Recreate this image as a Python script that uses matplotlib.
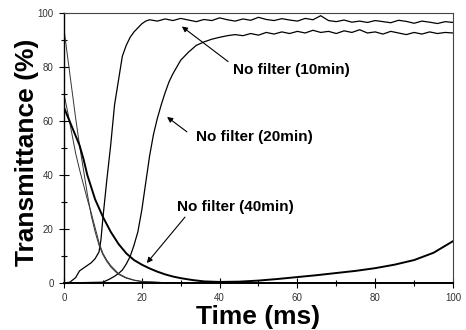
import numpy as np
import matplotlib
matplotlib.use("Agg")
import matplotlib.pyplot as plt
from matplotlib.ticker import MultipleLocator

plt.rcParams["font.family"] = ["Liberation Sans", "DejaVu Sans"]

# --- rise curves (early part read point by point, plateau sampled every 2 ms) ---
rise10_t = [0, 1.5, 3, 4, 5, 6, 7, 8, 9, 9.5, 10, 10.5, 11, 12, 13, 14, 15, 16, 17, 18, 19, 20, 21]
rise10_v = [0, 0.3, 2, 4.5, 5.5, 6.5, 7.5, 9, 11.5, 16, 24, 31, 38, 51, 66, 75, 84, 88, 91, 93, 94.5, 96, 97]
plat10_t = np.arange(22, 101, 2)
plat10_v = [97.5, 97, 97.8, 97.2, 98, 97.4, 96.8, 97.6, 97.2, 98.2,
            97.5, 97, 97.8, 97.3, 98.4, 97.6, 97.2, 97.9, 97.4, 97,
            98, 97.5, 99, 97.2, 96.8, 97.4, 96.6, 97, 96.5, 97.2,
            96.8, 96.4, 97.3, 96.9, 96.2, 97, 96.6, 96.1, 96.8, 96.5]

rise20_t = [0, 10, 11.8, 13, 14, 15, 16, 17, 18, 19, 20, 21, 22, 23, 24, 25, 26, 27,
            28, 29, 30, 32, 34, 36, 38, 40, 42]
rise20_v = [0, 0.3, 1.5, 2.5, 3.5, 4.8, 7, 9.8, 14, 19, 27, 37, 47, 55, 61, 66, 70.5, 74.5,
            77.5, 80, 82.5, 85.5, 88, 89.3, 90.3, 91, 91.6]
plat20_t = np.arange(44, 101, 2)
plat20_v = [92, 91.6, 92.4, 91.8, 92.8, 92.2, 93, 92.4, 93.2, 92.6,
            93.6, 92.8, 93.2, 92.4, 93.4, 92.8, 93.8, 92.6, 93, 92.2,
            93.2, 92.6, 92, 92.8, 92.2, 93, 92.4, 92.8, 92.6]

# --- decay curves ---
decay_t = [0, 1, 2, 3, 4, 5, 6, 7, 8, 9, 10, 11, 12, 13, 14, 16, 18, 20, 25, 30, 100]
decay10_v = [94, 83, 72, 61, 51, 42, 33, 25, 19, 14, 10.5, 8, 6, 4.5, 3.2, 1.8, 1, 0.5, 0.2, 0, 0]
decay20_v = [70, 63, 55.5, 48, 42, 36.5, 31, 26, 20.5, 15, 11, 8.5, 6.5, 5, 3.5, 2, 1.1, 0.6, 0.2, 0, 0]

f40_t = [0, 2, 4, 5, 6, 8, 10, 12, 14, 16, 18, 20, 22, 24, 26, 28, 30, 33, 36, 40,
         45, 50, 55, 60, 65, 70, 75, 80, 85, 90, 95, 100]
f40_v = [65, 58, 51, 46, 40, 31, 24.5, 19, 14.5, 11, 8.5, 6.8, 5.4, 4.2, 3.2, 2.4, 1.8, 1.1, 0.6, 0.4,
         0.5, 0.9, 1.5, 2.2, 2.9, 3.7, 4.5, 5.5, 6.8, 8.5, 11.2, 15.5]

labels = ["No filter (10min)", "No filter (20min)", "No filter (40min)"]
label_xy = [(43.5, 79), (34, 54), (29, 28)]
arrow_tail = [(42.2, 82), (31.6, 56), (31.1, 24.4)]
arrow_tip = [(30.3, 95), (26.5, 61.5), (21.3, 7.4)]

fig = plt.figure(figsize=(4.66, 3.30), dpi=100)
ax = fig.add_axes([0.1373, 0.1424, 0.9721 - 0.1373, 0.9606 - 0.1424])

ax.plot(list(rise10_t) + list(plat10_t), rise10_v + plat10_v, color="black", lw=0.9)
ax.plot(list(rise20_t) + list(plat20_t), rise20_v + plat20_v, color="black", lw=0.9)
ax.plot(decay_t, decay10_v, color="#333333", lw=0.7)
ax.plot(decay_t, decay20_v, color="#333333", lw=0.7)
ax.plot(f40_t, f40_v, color="black", lw=1.4)

for txt, xy, tail, tip in zip(labels, label_xy, arrow_tail, arrow_tip):
    ax.text(xy[0], xy[1], txt, fontsize=11, fontweight="bold", ha="left", va="center")
    ax.annotate("", xy=tip, xytext=tail,
                arrowprops=dict(arrowstyle="-|>", color="black", lw=0.8, mutation_scale=8,
                                shrinkA=0, shrinkB=0))

ax.set_xlim(0, 100)
ax.set_ylim(0, 100)
ax.xaxis.set_major_locator(MultipleLocator(20))
ax.xaxis.set_minor_locator(MultipleLocator(10))
ax.yaxis.set_major_locator(MultipleLocator(20))
ax.yaxis.set_minor_locator(MultipleLocator(10))
ax.tick_params(which="major", direction="inout", length=7, width=0.8, labelsize=7,
               labelcolor="#333333", pad=4)
ax.tick_params(which="minor", direction="inout", length=5, width=0.8)

ax.spines["left"].set_linewidth(1.0)
ax.spines["bottom"].set_linewidth(1.4)
for side in ["top", "right"]:
    ax.spines[side].set_linestyle((0, (1, 1)))
    ax.spines[side].set_linewidth(0.8)
    ax.spines[side].set_color("#444444")

ax.set_xlabel("Time (ms)", fontsize=19, fontweight="bold", labelpad=1)
ax.set_ylabel("Transmittance (%)", fontsize=19, fontweight="bold")
ax.yaxis.set_label_coords(-0.064, 0.485)

fig.savefig("out.png", dpi=100, facecolor="white")
